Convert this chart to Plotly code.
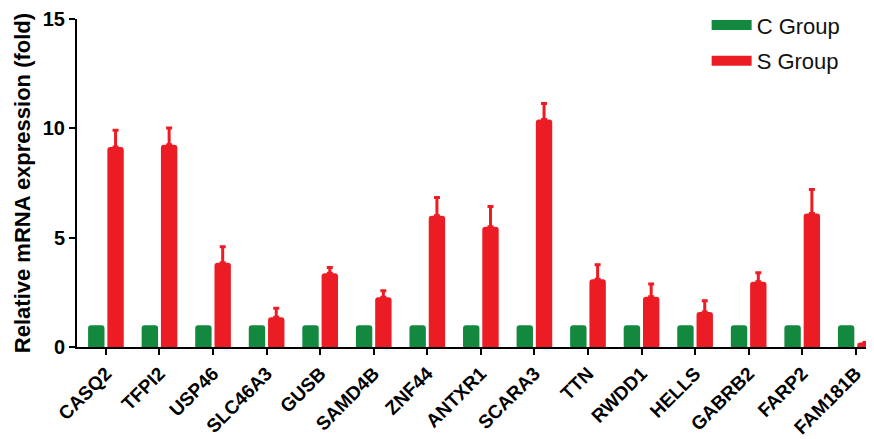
import plotly.graph_objects as go

genes = ["CASQ2", "TFPI2", "USP46", "SLC46A3", "GUSB", "SAMD4B", "ZNF44", "ANTXR1",
         "SCARA3", "TTN", "RWDD1", "HELLS", "GABRB2", "FARP2", "FAM181B"]
c_group = [1.0] * 15
s_group = [9.15, 9.25, 3.85, 1.36, 3.37, 2.27, 6.0, 5.5, 10.4, 3.1, 2.3, 1.6, 2.98, 6.1, 0.21]
s_err = [0.76, 0.76, 0.73, 0.41, 0.26, 0.3, 0.84, 0.92, 0.73, 0.66, 0.58, 0.51, 0.42, 1.1, 0.0]
y_ticks = [0, 5, 10, 15]

GREEN = "#13883F"
RED = "#EC1C24"
FONT = "Liberation Sans"

idx = list(range(len(genes)))

fig = go.Figure()
fig.add_trace(go.Bar(x=idx, y=c_group, name="C Group", marker_color=GREEN,
                     marker_line_width=0, showlegend=False))
fig.add_trace(go.Bar(x=idx, y=s_group, name="S Group", marker_color=RED,
                     marker_line_width=0, showlegend=False,
                     error_y=dict(type="data", symmetric=False, array=s_err,
                                  arrayminus=[0] * len(s_err), color=RED,
                                  thickness=3, width=3)))
# legend entries (wide swatches like the reference)
fig.add_trace(go.Scatter(x=[None], y=[None], mode="lines", name="C Group",
                         line=dict(color=GREEN, width=14), legendgroup="c"))
fig.add_trace(go.Scatter(x=[None], y=[None], mode="lines", name="S Group",
                         line=dict(color=RED, width=14), legendgroup="s"))

# page body has an 8px margin, so the figure is sized to fill the remaining view
fig.update_layout(
    width=866, height=431,
    margin=dict(l=69, r=0, t=11, b=92, autoexpand=False),
    paper_bgcolor="white", plot_bgcolor="white",
    barmode="group", bargap=0.28, bargroupgap=0.15, barcornerradius=3,
    font=dict(family=FONT, color="black"),
    showlegend=True,
    legend=dict(x=0.79, y=1.045, xanchor="left", yanchor="top",
                font=dict(family=FONT, size=22, color="#111"),
                tracegroupgap=4, bgcolor="rgba(0,0,0,0)", itemwidth=40),
    xaxis=dict(
        range=[-0.54, 14.34], tickmode="array", tickvals=idx, ticktext=genes,
        tickangle=-45, showline=True, linewidth=2, linecolor="black",
        ticks="outside", ticklen=6, tickwidth=2, tickcolor="black",
        showgrid=False, zeroline=False, automargin=False,
        tickfont=dict(family=FONT, size=19, color="black", weight="bold"),
    ),
    yaxis=dict(
        range=[0, 15], tickmode="array", tickvals=y_ticks,
        showline=True, linewidth=2, linecolor="black",
        ticks="outside", ticklen=6, tickwidth=2, tickcolor="black",
        showgrid=False, zeroline=False, automargin=False,
        tickfont=dict(family=FONT, size=20, color="black", weight="bold"),
        title=dict(text="Relative mRNA expression (fold)", standoff=6,
                   font=dict(family=FONT, size=22, color="black", weight="bold")),
    ),
)

fig.write_html("out.html")
